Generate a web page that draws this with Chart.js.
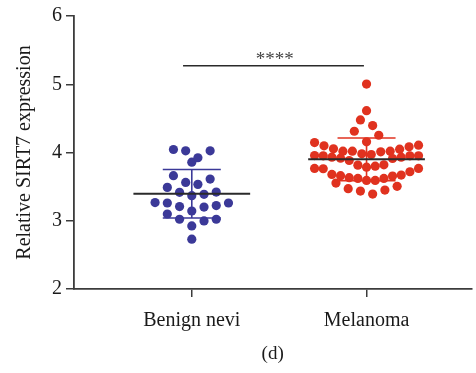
<!DOCTYPE html>
<html>
<head>
<meta charset="utf-8">
<script src="https://cdn.jsdelivr.net/npm/chart.js@4.4.0/dist/chart.umd.min.js"></script>
<style>
  html, body { margin: 0; padding: 0; background: #fff; }
  #wrap { width: 476px; height: 373px; }
</style>
</head>
<body>
<div id="wrap"><canvas id="sirt7Chart"></canvas></div>
<script>
// values (relative SIRT7 expression)
const categories = ['Benign nevi', 'Melanoma'];
const yTicks = [2, 3, 4, 5, 6];
const benignValues = [
    4.025, 3.923, 3.858, 4.025, 4.044, 3.660, 3.562, 3.610, 3.533,
    3.489, 3.416, 3.387, 3.368, 3.420, 3.266, 3.260, 3.207, 3.143,
    3.201, 3.222, 3.260, 3.099, 3.022, 2.997, 3.022, 2.924, 2.730
];
const melanomaValues = [
    5.003, 4.613, 4.477, 4.394, 4.311, 4.253, 4.156,
    4.145, 4.098, 4.054, 4.019, 4.019, 3.981, 3.971, 4.010, 4.019, 4.048, 4.083, 4.107,
    3.955, 3.952, 3.931, 3.917, 3.883, 3.912, 3.931, 3.952, 3.952,
    3.815, 3.785, 3.800, 3.820,
    3.766, 3.718, 3.669, 3.654, 3.620, 3.591, 3.591, 3.620, 3.631, 3.660, 3.679, 3.762, 3.766,
    3.504, 3.552, 3.450, 3.391, 3.435, 3.470
];
const significance = '****';
const bracketY = 5.27;

const BLUE = '#3b3998';
const RED = '#e0321f';
const AXIS = '#3c3c3c';
const FONT = "'Liberation Serif', 'Times New Roman', serif";

// Prism-style scatter: group values into rows, spread each row sideways,
// lowest value of a row in the middle
const BIN = 0.19;
const STEP = 0.070;   // x units between neighbours
const MAXW = 0.595;   // widest a row may get
function swarm(values, center) {
    const lo = Math.min(...values);
    const rows = {};
    values.forEach(v => {
        const k = Math.floor((v - lo) / BIN + 1e-9);
        (rows[k] = rows[k] || []).push(v);
    });
    const pts = [];
    Object.values(rows).forEach(row => {
        row.sort((a, b) => a - b);
        const n = row.length;
        const step = n > 1 ? Math.min(STEP, MAXW / (n - 1)) : 0;
        const slots = [];
        for (let i = 0; i < n; i++) slots.push((i - (n - 1) / 2) * step);
        slots.sort((a, b) => Math.abs(a) - Math.abs(b) || b - a);
        row.forEach((v, i) => pts.push({ x: center + slots[i], y: v }));
    });
    return pts;
}

function stats(values) {
    const m = values.reduce((s, v) => s + v, 0) / values.length;
    const sd = Math.sqrt(values.reduce((s, v) => s + (v - m) * (v - m), 0) / (values.length - 1));
    return { m, sd };
}

const MEAN_HALF = 0.334;
const CAP_HALF = 0.166;

function meanSdSets(values, center, color) {
    const { m, sd } = stats(values);
    const line = (data, c, w) => ({
        type: 'line', data, borderColor: c, borderWidth: w,
        pointRadius: 0, fill: false, tension: 0, showLine: true
    });
    return [
        line([{ x: center - MEAN_HALF, y: m }, { x: center + MEAN_HALF, y: m }], '#2a2a2a', 2),
        line([{ x: center, y: m - sd }, { x: center, y: m + sd }], color, 1.6),
        line([{ x: center - CAP_HALF, y: m + sd }, { x: center + CAP_HALF, y: m + sd }], color, 1.6),
        line([{ x: center - CAP_HALF, y: m - sd }, { x: center + CAP_HALF, y: m - sd }], color, 1.6)
    ];
}

const datasets = [
    ...meanSdSets(benignValues, 1, BLUE),
    ...meanSdSets(melanomaValues, 2, RED),
    {
        type: 'line',
        data: [{ x: 0.95, y: bracketY }, { x: 1.985, y: bracketY }],
        borderColor: '#2a2a2a', borderWidth: 1.6, pointRadius: 0, fill: false
    },
    {
        data: swarm(benignValues, 1),
        backgroundColor: BLUE, borderWidth: 0, pointRadius: 4.6, pointHoverRadius: 4.6
    },
    {
        data: swarm(melanomaValues, 2),
        backgroundColor: RED, borderWidth: 0, pointRadius: 4.6, pointHoverRadius: 4.6
    }
];

const starsPlugin = {
    id: 'stars',
    afterDatasetsDraw(chart) {
        const { ctx, scales: { x, y } } = chart;
        ctx.save();
        ctx.fillStyle = '#444';
        ctx.font = '19px ' + FONT;
        ctx.textAlign = 'center';
        ctx.textBaseline = 'alphabetic';
        ctx.fillText(significance, x.getPixelForValue(1.475), y.getPixelForValue(bracketY) - 1);
        ctx.restore();
    }
};

new Chart(document.getElementById('sirt7Chart'), {
    type: 'scatter',
    data: { datasets },
    plugins: [starsPlugin],
    options: {
        responsive: true,
        maintainAspectRatio: false,
        animation: false,
        layout: { padding: { top: 15, right: 0, left: 0, bottom: 0 } },
        plugins: { legend: { display: false }, tooltip: { enabled: false } },
        scales: {
            x: {
                type: 'linear',
                min: 0.326,
                max: 2.600,
                afterBuildTicks: s => { s.ticks = [1, 2].map(v => ({ value: v })); },
                afterFit: s => { s.height = 84; },
                ticks: {
                    callback: v => categories[v - 1],
                    color: '#1a1a1a',
                    font: { family: FONT, size: 20 },
                    padding: 12,
                    maxRotation: 0,
                    autoSkip: false
                },
                grid: { display: true, drawOnChartArea: false, drawTicks: true, tickLength: 8, color: AXIS, lineWidth: 1.5 },
                border: { display: true, color: AXIS, width: 1.8 },
                title: {
                    display: true,
                    text: '(d)',
                    color: '#1a1a1a',
                    font: { family: FONT, size: 19 },
                    padding: { top: 0, bottom: 8 }
                }
            },
            y: {
                min: 2,
                max: 6,
                afterBuildTicks: s => { s.ticks = yTicks.map(v => ({ value: v })); },
                afterFit: s => { s.width = 74; },
                ticks: {
                    color: '#1a1a1a',
                    font: { family: FONT, size: 20 },
                    padding: 4
                },
                grid: { display: true, drawOnChartArea: false, drawTicks: true, tickLength: 8, color: AXIS, lineWidth: 1.5 },
                border: { display: true, color: AXIS, width: 1.8 },
                title: {
                    display: true,
                    text: 'Relative SIRT7 expression',
                    color: '#1a1a1a',
                    font: { family: FONT, size: 20 },
                    padding: { top: 13, bottom: 0 }
                }
            }
        }
    }
});
</script>
</body>
</html>
